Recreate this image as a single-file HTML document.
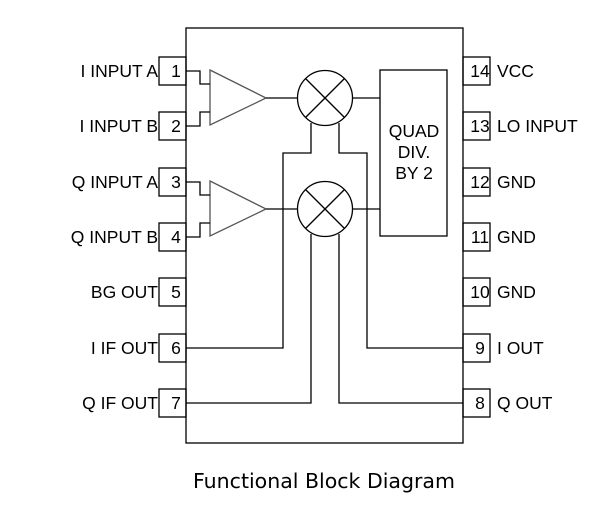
<!DOCTYPE html>
<html><head><style>body{margin:0;background:#fff}svg{display:block}</style></head><body>
<svg width="614" height="521" viewBox="0 0 614 521" xmlns="http://www.w3.org/2000/svg" font-family="Liberation Sans, sans-serif">
<g fill="none" stroke="#000" stroke-width="1.3">
<rect x="186" y="28" width="277" height="415"/>
<rect x="159" y="57" width="27" height="28"/>
<rect x="159" y="112" width="27" height="28"/>
<rect x="159" y="168" width="27" height="28"/>
<rect x="159" y="223" width="27" height="28"/>
<rect x="159" y="278" width="27" height="28"/>
<rect x="159" y="334" width="27" height="28"/>
<rect x="159" y="389" width="27" height="28"/>
<rect x="463" y="57" width="27" height="28"/>
<rect x="463" y="112" width="27" height="28"/>
<rect x="463" y="168" width="27" height="28"/>
<rect x="463" y="223" width="27" height="28"/>
<rect x="463" y="278" width="27" height="28"/>
<rect x="463" y="334" width="27" height="28"/>
<rect x="463" y="389" width="27" height="28"/>
<polygon points="210,70 266,98 210,125" stroke="#555"/>
<polygon points="210,181 266,209 210,236" stroke="#555"/>
<polyline points="186,71 200,71 200,84 210,84"/>
<polyline points="186,126 200,126 200,112 210,112"/>
<polyline points="186,182 200,182 200,195 210,195"/>
<polyline points="186,237 200,237 200,223 210,223"/>
<circle cx="325" cy="98" r="27.5"/>
<circle cx="325" cy="209" r="27.5"/>
<line x1="305.5" y1="78.5" x2="344.5" y2="117.5"/><line x1="344.5" y1="78.5" x2="305.5" y2="117.5"/>
<line x1="305.5" y1="189.5" x2="344.5" y2="228.5"/><line x1="344.5" y1="189.5" x2="305.5" y2="228.5"/>
<line x1="266" y1="98" x2="297.5" y2="98"/>
<line x1="266" y1="209" x2="297.5" y2="209"/>
<rect x="380" y="70" width="67" height="166"/>
<line x1="352.5" y1="98" x2="380" y2="98"/>
<line x1="352.5" y1="209" x2="380" y2="209"/>
<polyline points="311,123 311,153 283,153 283,348 186,348"/>
<polyline points="339,123 339,153 367,153 367,348 463,348"/>
<polyline points="311,234 311,403 186,403"/>
<polyline points="339,234 339,403 463,403"/>
</g>
<g font-size="17.5" fill="#000">
<g text-anchor="middle">
<text x="176" y="77">1</text><text x="176" y="132">2</text><text x="176" y="188">3</text><text x="176" y="243">4</text><text x="176" y="298">5</text><text x="176" y="354">6</text><text x="176" y="409">7</text>
<text x="480" y="77">14</text><text x="480" y="132">13</text><text x="480" y="188">12</text><text x="480" y="243">11</text><text x="480" y="298">10</text><text x="480" y="354">9</text><text x="480" y="409">8</text>
<text x="414" y="137">QUAD</text><text x="414" y="158">DIV.</text><text x="414" y="179">BY 2</text>
</g>
<g text-anchor="end">
<text x="158" y="77">I INPUT A</text><text x="158" y="132">I INPUT B</text><text x="158" y="188">Q INPUT A</text><text x="158" y="243">Q INPUT B</text><text x="158" y="298">BG OUT</text><text x="158" y="354">I IF OUT</text><text x="158" y="409">Q IF OUT</text>
</g>
<text x="497" y="77">VCC</text><text x="497" y="132">LO INPUT</text><text x="497" y="188">GND</text><text x="497" y="243">GND</text><text x="497" y="298">GND</text><text x="497" y="354">I OUT</text><text x="497" y="409">Q OUT</text>
</g>
<text x="324" y="488" font-size="20.5" text-anchor="middle" font-family="DejaVu Sans, sans-serif">Functional Block Diagram</text>
</svg>
</body></html>
